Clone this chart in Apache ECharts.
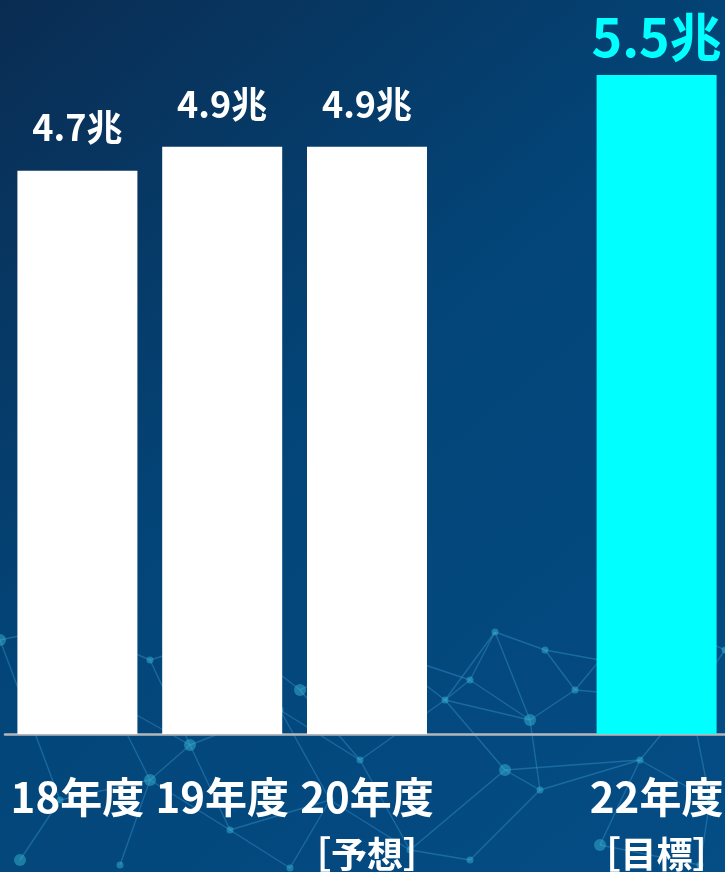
<!DOCTYPE html>
<html>
<head>
<meta charset="utf-8">
<script src="https://cdn.jsdelivr.net/npm/echarts@6/dist/echarts.min.js"></script>
<style>
  html, body { margin: 0; padding: 0; background: #06305a; overflow: hidden; }
  #chart { width: 732px; height: 872px; }
</style>
</head>
<body>
<div id="chart"></div>
<script>
// Fiscal years (21年度 left blank), market size in 兆円, and notes under the axis
const categories = ['18年度', '19年度', '20年度', '', '22年度'];
const notes = ['', '', '［予想］', '', '［目標］'];
const values = [4.7, 4.9, 4.9, null, 5.5];
const highlightIndex = 4;

const chart = echarts.init(document.getElementById('chart'));

// faint network of lines and nodes across the lower background
const netPts = [
  [0, 640], [70, 625], [150, 660], [230, 635], [300, 690], [380, 650], [495, 632], [600, 660],
  [660, 620], [725, 650], [30, 720], [110, 700], [190, 745], [280, 710], [360, 760], [445, 700],
  [530, 720], [575, 690], [690, 700], [60, 800], [150, 780], [230, 830], [330, 800], [410, 850],
  [505, 770], [540, 790], [640, 760], [710, 800], [20, 860], [120, 865], [290, 868], [470, 860],
  [600, 845], [700, 865], [470, 680], [545, 650]
];
const netLinks = [
  [0, 1], [1, 2], [2, 3], [3, 4], [4, 5], [5, 34], [34, 6], [6, 35], [35, 7], [7, 8], [8, 9],
  [0, 10], [10, 11], [11, 12], [12, 13], [13, 14], [14, 15], [15, 16], [16, 17], [17, 18],
  [1, 11], [2, 12], [3, 13], [4, 14], [5, 15], [34, 15], [6, 16], [35, 17], [7, 17], [8, 18],
  [9, 18], [10, 19], [19, 20], [20, 21], [21, 22], [22, 23], [23, 24], [24, 25], [25, 26],
  [26, 27], [11, 20], [12, 21], [13, 22], [14, 23], [15, 24], [16, 25], [18, 26], [18, 27],
  [19, 28], [20, 29], [21, 30], [22, 30], [23, 31], [25, 31], [26, 32], [27, 33], [32, 33],
  [34, 16], [6, 15], [24, 26], [12, 20]
];
const netGraphics = [];
netLinks.forEach(([a, b]) => {
  netGraphics.push({
    type: 'line', silent: true, z: -10,
    shape: { x1: netPts[a][0], y1: netPts[a][1], x2: netPts[b][0], y2: netPts[b][1] },
    style: { stroke: 'rgba(70,165,225,0.35)', lineWidth: 1.4 }
  });
});
netPts.forEach((p, i) => {
  netGraphics.push({
    type: 'circle', silent: true, z: -10,
    shape: { cx: p[0], cy: p[1], r: i % 4 === 0 ? 6 : 3.5 },
    style: { fill: 'rgba(60,190,215,0.45)' }
  });
});

chart.setOption({
  backgroundColor: {
    type: 'linear', x: 0, y: 0, x2: 1, y2: 1,
    colorStops: [
      { offset: 0, color: '#0a2c52' },
      { offset: 0.45, color: '#034578' },
      { offset: 1, color: '#044d85' }
    ]
  },
  graphic: netGraphics,
  grid: { left: 5, width: 724, top: 15, bottom: 137, containLabel: false },
  xAxis: {
    type: 'category',
    data: categories,
    axisLine: { show: true, lineStyle: { color: '#b4b8bd', width: 2.5 } },
    axisTick: { show: false },
    axisLabel: {
      interval: 0,
      margin: 42,
      formatter: (v, i) => notes[i] ? '{a|' + v + '}\n{b|' + notes[i] + '}' : '{a|' + v + '}',
      rich: {
        a: { color: '#ffffff', fontSize: 42, fontWeight: 'bold', fontFamily: 'Noto Sans CJK JP', lineHeight: 42 },
        b: { color: '#ffffff', fontSize: 36, fontWeight: 'bold', fontFamily: 'Noto Sans CJK JP', lineHeight: 72 }
      }
    }
  },
  yAxis: {
    type: 'value', min: 0, max: 6,
    show: false,
    splitLine: { show: false }
  },
  series: [{
    type: 'bar',
    barWidth: 120,
    data: values.map((v, i) => ({
      value: v,
      itemStyle: { color: i === highlightIndex ? '#00ffff' : '#ffffff' },
      label: i === highlightIndex
        ? { color: '#00ffff', fontSize: 52, distance: 12 }
        : { color: '#ffffff', fontSize: 36, distance: 25 }
    })),
    label: {
      show: true,
      position: 'top',
      fontWeight: 'bold',
      fontFamily: 'Noto Sans CJK JP',
      formatter: p => p.value + '兆'
    }
  }]
});
</script>
</body>
</html>
